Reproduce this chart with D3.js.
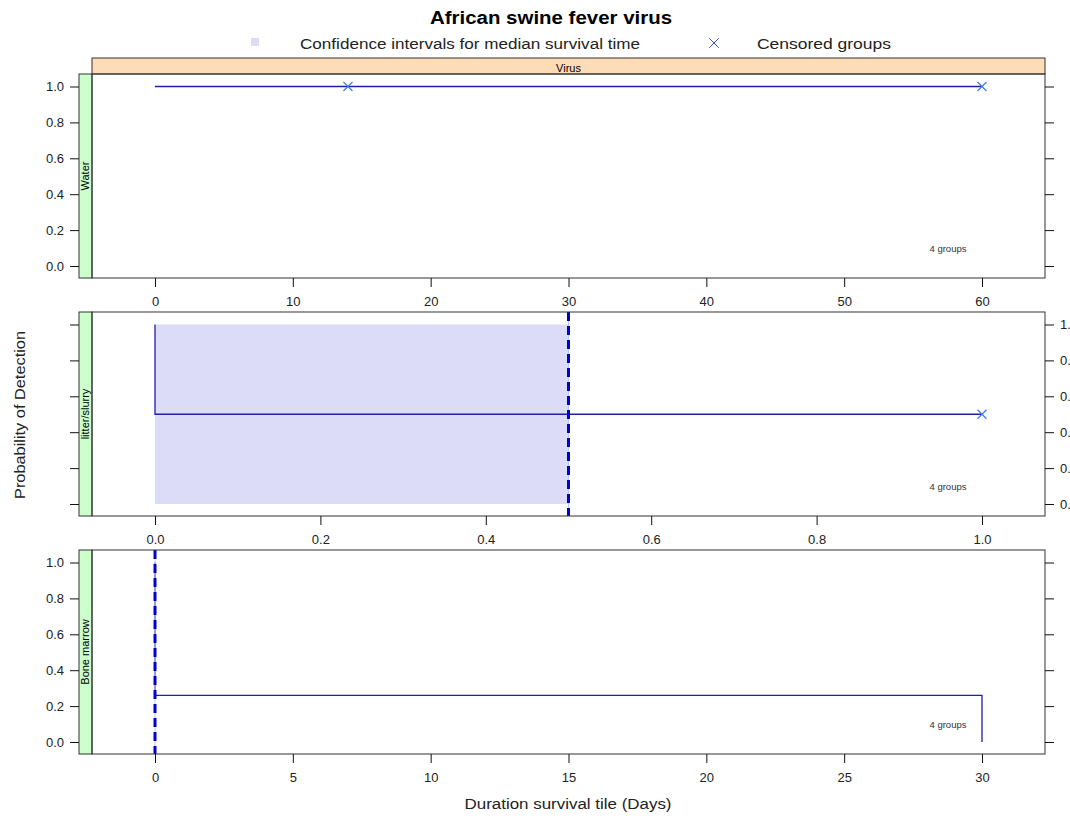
<!DOCTYPE html>
<html>
<head>
<meta charset="utf-8">
<script src="https://cdn.jsdelivr.net/npm/d3@7"></script>
<style>
  body { margin: 0; background: #fff; }
  svg { display: block; overflow: hidden; }
  text { font-family: "Liberation Sans", Arial, sans-serif; }
</style>
</head>
<body>
<div id="chart"></div>
<script>
// Panel data (one entry per panel, top to bottom)
const panelNames = ["Water", "litter/slurry", "Bone marrow"];
const xDomains = [[0, 60], [0, 1], [0, 30]];
const xTickValues = [[0, 10, 20, 30, 40, 50, 60], [0, 0.2, 0.4, 0.6, 0.8, 1.0], [0, 5, 10, 15, 20, 25, 30]];
const yTickValues = [0, 0.2, 0.4, 0.6, 0.8, 1.0];

// Survival step curves
const stepTimes = [[0, 60], [0, 0, 1], [0, 0, 30, 30]];
const stepSurv = [[1, 1], [1, 0.5, 0.5], [1, 0.26, 0.26, 0]];

// Censored observations
const censTimes = [[14, 60], [1], []];
const censSurv = [[1, 1], [0.5], []];

// Median survival and its confidence interval
const medianTime = [null, 0.5, 0];
const ciLower = [null, 0, 0];
const ciUpper = [null, 0.5, 0];

const groupLabels = ["4 groups", "4 groups", "4 groups"];

const width = 1070, height = 821;
const left = 92, right = 1045, stripW = 13, tickLen = 9;
const panelTops = [74, 312, 550];
const panelH = 204;

const lineColor = "#1f1fa8";
const censColor = "#3f7fe0";
const medianColor = "#0000d0";
const ciFill = "#dcdcf8";
const frameColor = "#333";

const svg = d3.select("#chart").append("svg")
  .attr("width", width)
  .attr("height", height);

// Title and legend
svg.append("text")
  .attr("x", 551).attr("y", 24)
  .attr("text-anchor", "middle")
  .attr("textLength", 242).attr("lengthAdjust", "spacingAndGlyphs")
  .style("font-size", "18px").style("font-weight", "bold")
  .text("African swine fever virus");

svg.append("rect").attr("x", 251).attr("y", 38).attr("width", 8).attr("height", 8)
  .style("fill", ciFill);
svg.append("text").attr("x", 300).attr("y", 49)
  .attr("textLength", 340).attr("lengthAdjust", "spacingAndGlyphs")
  .style("font-size", "15.5px").style("fill", "#222")
  .text("Confidence intervals for median survival time");
svg.append("path").attr("d", d3.symbol(d3.symbolX, 60)())
  .attr("transform", "translate(714,43)")
  .style("stroke", "#3355bb").style("fill", "none");
svg.append("text").attr("x", 757).attr("y", 49)
  .attr("textLength", 134).attr("lengthAdjust", "spacingAndGlyphs")
  .style("font-size", "15.5px").style("fill", "#222")
  .text("Censored groups");

// Virus strip over top panel
svg.append("rect").attr("x", left).attr("y", 58).attr("width", right - left).attr("height", 16)
  .style("fill", "#ffdcb8").style("stroke", frameColor);
svg.append("text").attr("x", (left + right) / 2).attr("y", 72)
  .attr("text-anchor", "middle").style("font-size", "11px").text("Virus");

panelNames.forEach((name, i) => {
  const top = panelTops[i], bottom = top + panelH;
  const x = d3.scaleLinear().domain(xDomains[i]).range([155, 982]);
  const y = d3.scaleLinear().domain([0, 1]).range([bottom - 12, top + 12.5]);
  const g = svg.append("g");

  // Green strip on left
  g.append("rect").attr("x", left - stripW).attr("y", top).attr("width", stripW).attr("height", panelH)
    .style("fill", "#ccffcc").style("stroke", frameColor);
  g.append("text")
    .attr("transform", `translate(${left - 3},${top + panelH / 2}) rotate(-90)`)
    .attr("text-anchor", "middle").style("font-size", "11px").text(name);

  // Confidence interval band
  if (ciLower[i] !== null && ciUpper[i] > ciLower[i]) {
    g.append("rect")
      .attr("x", x(ciLower[i])).attr("y", y(1))
      .attr("width", x(ciUpper[i]) - x(ciLower[i])).attr("height", y(0) - y(1))
      .style("fill", ciFill);
  }

  // Survival step line
  const pts = stepTimes[i].map((t, j) => [x(t), y(stepSurv[i][j])]);
  g.append("path").attr("d", d3.line()(pts))
    .style("fill", "none").style("stroke", lineColor).style("stroke-width", 1.3);

  // Median line (dashed)
  if (medianTime[i] !== null) {
    g.append("line")
      .attr("x1", x(medianTime[i])).attr("x2", x(medianTime[i]))
      .attr("y1", top).attr("y2", bottom)
      .style("stroke", "#b8c8f0").style("stroke-width", 1);
    g.append("line")
      .attr("x1", x(medianTime[i])).attr("x2", x(medianTime[i]))
      .attr("y1", top).attr("y2", bottom)
      .style("stroke", medianColor).style("stroke-width", 3)
      .style("stroke-dasharray", "9,5");
  }

  // Censored marks
  censTimes[i].forEach((t, j) => {
    g.append("path").attr("d", d3.symbol(d3.symbolX, 55)())
      .attr("transform", `translate(${x(t)},${y(censSurv[i][j])})`)
      .style("stroke", censColor).style("stroke-width", 1.2).style("fill", "none");
  });

  g.append("text").attr("x", 948).attr("y", bottom - 26)
    .attr("text-anchor", "middle").style("font-size", "9.5px").style("fill", "#333")
    .text(groupLabels[i]);

  // Panel frame
  g.append("rect").attr("x", left).attr("y", top).attr("width", right - left).attr("height", panelH)
    .style("fill", "none").style("stroke", frameColor);

  // x axis at bottom
  const xAxis = g.append("g").attr("transform", `translate(0,${bottom})`)
    .call(d3.axisBottom(x).tickValues(xTickValues[i]).tickSize(tickLen).tickPadding(10)
      .tickFormat(i === 1 ? d3.format(".1f") : d3.format("d")));
  xAxis.select(".domain").remove();
  xAxis.selectAll("text").style("font-size", "13px").style("fill", "#222");
  xAxis.selectAll("line").style("stroke", "#111");

  // left y axis, outside green strip
  const yLeft = g.append("g").attr("transform", `translate(${left - stripW},0)`)
    .call(d3.axisLeft(y).tickValues(yTickValues).tickSize(tickLen).tickPadding(6)
      .tickFormat(i === 1 ? () => "" : d3.format(".1f")));
  yLeft.select(".domain").remove();
  yLeft.selectAll("text").style("font-size", "13px").style("fill", "#222");
  yLeft.selectAll("line").style("stroke", "#111");

  // right y axis (middle panel labels run off the page edge, as in the original)
  const yRight = g.append("g").attr("transform", `translate(${right},0)`)
    .call(d3.axisRight(y).tickValues(yTickValues).tickSize(tickLen).tickPadding(6)
      .tickFormat(i === 1 ? d3.format(".1f") : () => ""));
  yRight.select(".domain").remove();
  yRight.selectAll("text").style("font-size", "13px").style("fill", "#222");
  yRight.selectAll("line").style("stroke", "#111");
});

// Axis titles
svg.append("text").attr("x", 568).attr("y", 809)
  .attr("text-anchor", "middle")
  .attr("textLength", 207).attr("lengthAdjust", "spacingAndGlyphs")
  .style("font-size", "15.5px").style("fill", "#222")
  .text("Duration survival tile (Days)");
svg.append("text")
  .attr("transform", "translate(25,415) rotate(-90)")
  .attr("text-anchor", "middle")
  .attr("textLength", 168).attr("lengthAdjust", "spacingAndGlyphs")
  .style("font-size", "15.5px").style("fill", "#222")
  .text("Probability of Detection");
</script>
</body>
</html>
